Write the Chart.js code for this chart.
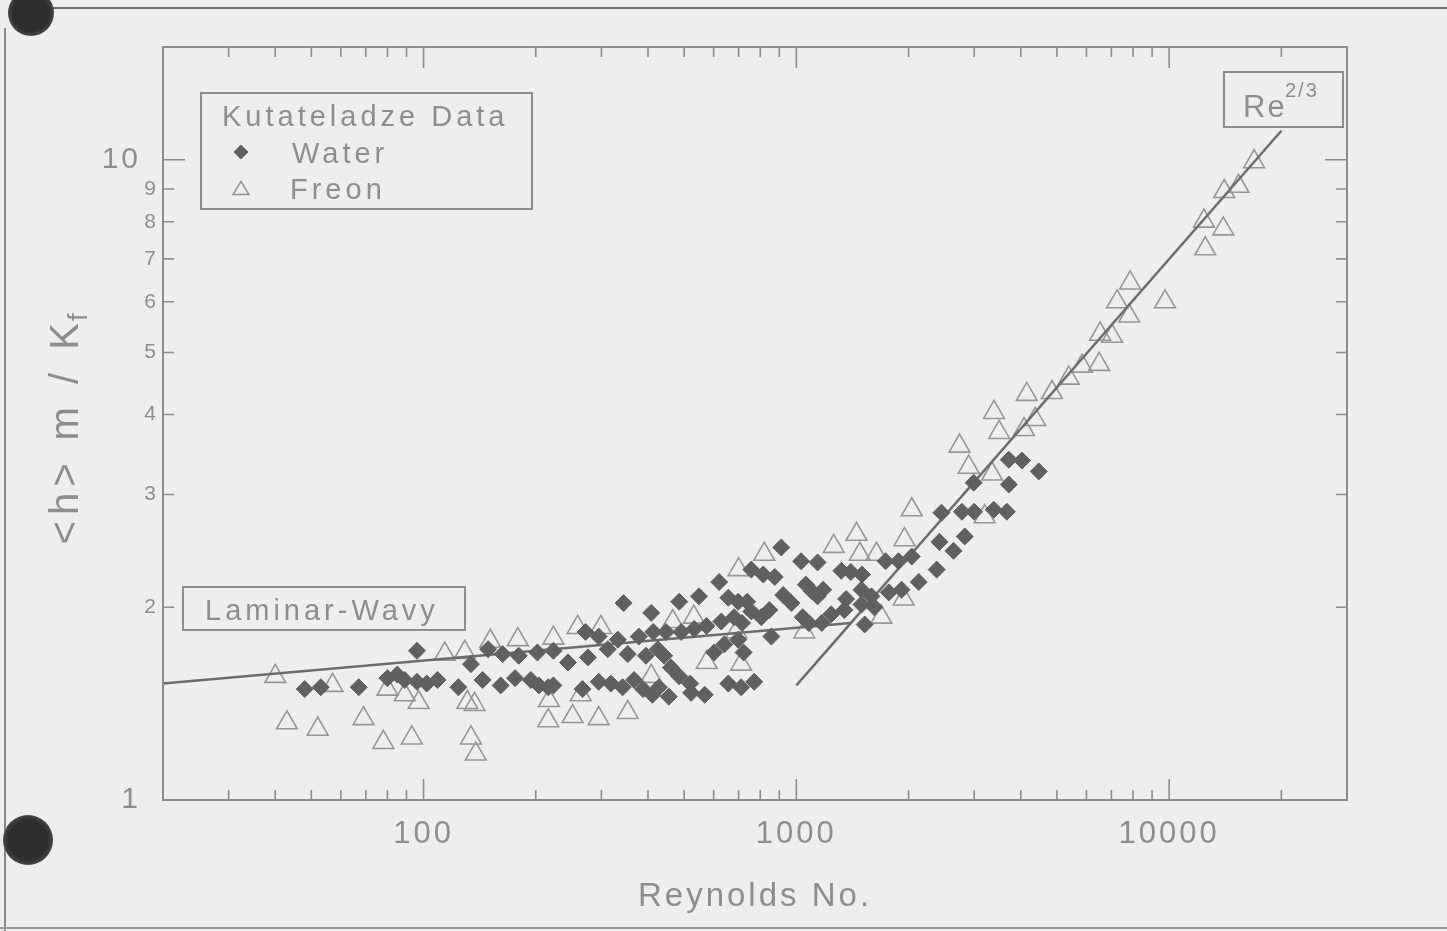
<!DOCTYPE html>
<html>
<head>
<meta charset="utf-8">
<title>Kutateladze Data</title>
<script src="https://cdn.jsdelivr.net/npm/chart.js@4.4.1/dist/chart.umd.min.js"></script>
<style>
  html, body { margin: 0; padding: 0; background: #eeeeec; overflow: hidden; }
  #wrap { position: relative; width: 1447px; height: 931px; background: #eeeeec; }
  #c { position: absolute; left: 0; top: 0; }
  .edge { position: absolute; background: #6f6f6f; }
  .hole { position: absolute; border-radius: 50%; background: radial-gradient(circle, #2e2e2e 55%, #555 80%, rgba(90,90,90,0) 100%); }
</style>
</head>
<body>
<div id="wrap">
  <canvas id="c" width="1447" height="931"></canvas>
  <div class="edge" style="left:46px;top:7px;width:1401px;height:2px;"></div>
  <div class="edge" style="left:4px;top:28px;width:2px;height:903px;background:#8a8a8a;"></div>
  <div class="edge" style="left:0;top:927px;width:1447px;height:2px;background:#9a9a9a;"></div>
  <div class="hole" style="left:8px;top:-10px;width:46px;height:46px;"></div>
  <div class="hole" style="left:3px;top:815px;width:50px;height:50px;"></div>
</div>
<script>
// Water (diamonds) and Freon (triangles): Reynolds number vs <h> m / K_f
const waterRe = [48,53,67,80,85,89,96,96,102,109,124,134,144,149,161,163,180,176,202,223,
  244,276,272,295,312,332,353,378,395,413,447,442,204,223,267,295,318,342,367,388,411,344,408,216,194,
  911,1030,1140,757,815,875,621,485,548,657,698,738,922,970,1060,1100,1180,491,532,574,
  629,681,715,757,805,846,1040,1080,1170,425,461,485,519,602,641,698,722,857,428,455,522,568,657,711,771,
  2450,2780,2420,2640,2830,1320,1400,1500,1735,1880,2040,2380,1140,1360,1495,1590,1770,1915,2130,1240,
  1345,1495,1620,1525,
  3715,4030,4470,3715,2990,3000,3385,3670];
const waterH = [1.49,1.50,1.50,1.55,1.57,1.54,1.71,1.53,1.52,1.54,1.50,1.63,1.54,1.72,1.51,1.69,1.68,1.55,1.70,1.71,
  1.64,1.67,1.83,1.80,1.72,1.78,1.69,1.80,1.68,1.83,1.83,1.68,1.51,1.51,1.49,1.53,1.52,1.50,1.54,1.49,1.46,2.03,1.96,1.50,1.54,
  2.48,2.36,2.35,2.29,2.25,2.23,2.19,2.04,2.08,2.07,2.04,2.04,2.09,2.03,2.17,2.12,2.13,1.83,1.85,1.87,
  1.90,1.93,1.89,1.97,1.93,1.98,1.93,1.89,1.89,1.72,1.61,1.56,1.52,1.70,1.75,1.78,1.70,1.80,1.50,1.45,1.47,1.46,1.52,1.50,1.53,
  2.81,2.82,2.53,2.45,2.58,2.28,2.27,2.25,2.36,2.36,2.40,2.29,2.08,2.06,2.13,2.08,2.11,2.13,2.19,1.95,
  1.98,2.02,2.00,1.88,
  3.40,3.39,3.26,3.11,3.13,2.82,2.84,2.82];

const freonRe = [40,43,52,57,69,78,80,89,93,97,114,129,131,134,138,137,151,179,223,259,
  299,217,216,251,295,353,264,408,466,531,820,700,690,1050,711,575,2040,1450,1260,1480,
  1640,1950,1690,1940,3200,2740,2900,3350,3390,4370,4080,3500,4150,4850,5380,5840,6490,6530,7030,7810,
  7250,7860,9750,12500,12400,13970,14050,15350,16900];
const freonH = [1.56,1.32,1.29,1.51,1.34,1.23,1.49,1.46,1.25,1.42,1.69,1.70,1.42,1.25,1.18,1.41,1.77,1.78,1.79,1.86,
  1.86,1.43,1.33,1.35,1.34,1.37,1.46,1.56,1.90,1.93,2.42,2.29,1.83,1.83,1.63,1.64,2.84,2.60,2.49,2.42,
  2.42,2.55,1.93,2.06,2.77,3.57,3.31,3.23,4.03,3.93,3.79,3.75,4.30,4.33,4.56,4.76,4.79,5.34,5.30,5.70,
  6.00,6.42,6.00,7.26,8.02,7.80,8.92,9.09,9.93];

// Correlation lines (end points)
const laminarRe = [20, 1400];
const laminarH = [1.52, 1.89];
const turbRe = [1000, 20000];
const turbH = [1.51, 11.1];

// Axis ticks
const xLabelVals = [100, 1000, 10000];
const xMinorTicks = [30,40,50,60,70,80,90,200,300,400,500,600,700,800,900,2000,3000,4000,5000,6000,7000,8000,9000,20000];
const yLabelVals = [1,2,3,4,5,6,7,8,9,10];
const yMinorTicks = [2,3,4,5,6,7,8,9];
const yMajorTicks = [10];

const FONT = '"Liberation Sans", Arial, Helvetica, sans-serif';
const INK = '#8d8d8d';
const DARK = '#606060';

const pts = (xs, ys) => xs.map((x, i) => ({ x: x, y: ys[i] }));

function drawDiamond(ctx, x, y, r) {
  ctx.beginPath();
  ctx.moveTo(x - r, y); ctx.lineTo(x, y - r); ctx.lineTo(x + r, y); ctx.lineTo(x, y + r);
  ctx.closePath(); ctx.fill();
}
function drawTriangle(ctx, x, y, w, h) {
  ctx.beginPath();
  ctx.moveTo(x, y - h / 2); ctx.lineTo(x + w / 2, y + h / 2); ctx.lineTo(x - w / 2, y + h / 2);
  ctx.closePath(); ctx.stroke();
}

const framePlugin = {
  id: 'frame',
  beforeDraw(chart) {
    chart.ctx.letterSpacing = '3px';
  },
  afterDraw(chart) {
    const ctx = chart.ctx;
    const a = chart.chartArea;
    const xs = chart.scales.x, ys = chart.scales.y;
    ctx.save();
    ctx.strokeStyle = INK;
    ctx.lineWidth = 2;
    ctx.strokeRect(a.left, a.top, a.right - a.left, a.bottom - a.top);
    ctx.lineWidth = 1.6;
    ctx.beginPath();
    const xt = (v, len) => {
      const p = xs.getPixelForValue(v);
      ctx.moveTo(p, a.bottom); ctx.lineTo(p, a.bottom - len);
      ctx.moveTo(p, a.top); ctx.lineTo(p, a.top + len);
    };
    const yt = (v, len) => {
      const p = ys.getPixelForValue(v);
      ctx.moveTo(a.left, p); ctx.lineTo(a.left + len, p);
      ctx.moveTo(a.right, p); ctx.lineTo(a.right - len, p);
    };
    xMinorTicks.forEach(v => xt(v, 10));
    xLabelVals.forEach(v => xt(v, 21));
    yMinorTicks.forEach(v => yt(v, 11));
    yMajorTicks.forEach(v => yt(v, 22));
    ctx.stroke();

    // y-axis title with subscript
    ctx.fillStyle = INK;
    ctx.translate(78, 424);
    ctx.rotate(-Math.PI / 2);
    ctx.textAlign = 'left';
    ctx.textBaseline = 'alphabetic';
    ctx.letterSpacing = '6px';
    ctx.font = '40px ' + FONT;
    const main = '<h> m / K';
    const w1 = ctx.measureText(main).width;
    ctx.font = '27px ' + FONT;
    const w2 = ctx.measureText('f').width;
    const start = -(w1 + w2) / 2;
    ctx.font = '40px ' + FONT;
    ctx.fillText(main, start, 0);
    ctx.font = '27px ' + FONT;
    ctx.fillText('f', start + w1 - 4, 9);
    ctx.restore();

    // legend box
    ctx.save();
    ctx.strokeStyle = INK;
    ctx.fillStyle = INK;
    ctx.lineWidth = 2;
    ctx.letterSpacing = '4px';
    ctx.strokeRect(201, 93, 331, 116);
    ctx.font = '29px ' + FONT;
    ctx.textBaseline = 'alphabetic';
    ctx.fillText('Kutateladze Data', 222, 126);
    ctx.fillText('Water', 292, 163);
    ctx.fillText('Freon', 290, 199);
    ctx.fillStyle = DARK;
    drawDiamond(ctx, 241, 152, 7.5);
    ctx.strokeStyle = '#959595';
    ctx.lineWidth = 1.5;
    drawTriangle(ctx, 241, 188, 16, 13);

    // regime labels
    ctx.strokeStyle = INK;
    ctx.fillStyle = INK;
    ctx.lineWidth = 2;
    ctx.strokeRect(183, 587, 282, 43);
    ctx.fillText('Laminar-Wavy', 205, 620);
    ctx.strokeRect(1224, 72, 119, 55);
    ctx.letterSpacing = '2px';
    ctx.font = '31px ' + FONT;
    ctx.fillText('Re', 1243, 117);
    ctx.font = '20px ' + FONT;
    ctx.fillText('2/3', 1285, 97);
    ctx.restore();
  }
};

new Chart(document.getElementById('c'), {
  type: 'scatter',
  data: {
    datasets: [
      {
        label: 'Water', data: pts(waterRe, waterH), order: 0,
        pointStyle: 'rectRot', radius: 8.5, hoverRadius: 8.5,
        backgroundColor: DARK, borderColor: DARK, borderWidth: 1
      },
      {
        label: 'Laminar-Wavy', type: 'line', data: pts(laminarRe, laminarH), order: 1,
        showLine: true, borderColor: '#6c6c6c', borderWidth: 2.5, pointRadius: 0, fill: false
      },
      {
        label: 'Re^2/3', type: 'line', data: pts(turbRe, turbH), order: 1,
        showLine: true, borderColor: '#6c6c6c', borderWidth: 2.5, pointRadius: 0, fill: false
      },
      {
        label: 'Freon', data: pts(freonRe, freonH), order: 2,
        pointStyle: 'triangle', radius: 12, hoverRadius: 12,
        backgroundColor: 'rgba(0,0,0,0)', borderColor: '#969696', borderWidth: 1.6
      }
    ]
  },
  options: {
    responsive: false,
    animation: false,
    events: [],
    layout: { padding: { top: 47, right: 100, left: 0, bottom: 0 } },
    plugins: { legend: { display: false }, tooltip: { enabled: false } },
    scales: {
      x: {
        type: 'logarithmic', min: 20, max: 30000, position: 'bottom',
        afterFit(s) { s.height = 131; },
        afterBuildTicks(s) { s.ticks = xLabelVals.map(v => ({ value: v })); },
        grid: { display: false, drawTicks: false }, border: { display: false },
        ticks: {
          color: INK, font: { family: FONT, size: 31 }, padding: 16,
          maxRotation: 0, autoSkip: false, callback: v => String(v)
        },
        title: {
          display: true, text: 'Reynolds No.', color: INK,
          font: { family: FONT, size: 33 }, padding: { top: 0, bottom: 14 }
        }
      },
      y: {
        type: 'logarithmic', min: 1, max: 15, position: 'left',
        afterFit(s) { s.width = 163; },
        afterBuildTicks(s) { s.ticks = yLabelVals.map(v => ({ value: v })); },
        grid: { display: false, drawTicks: false }, border: { display: false },
        ticks: {
          color: INK, padding: 4, autoSkip: false,
          font: c => ({ family: FONT, size: (c.tick && (c.tick.value === 1 || c.tick.value === 10)) ? 30 : 21 }),
          callback: v => (v === 1 || v === 10) ? String(v) + '\u2002' : String(v)
        }
      }
    }
  },
  plugins: [framePlugin]
});
</script>
</body>
</html>
